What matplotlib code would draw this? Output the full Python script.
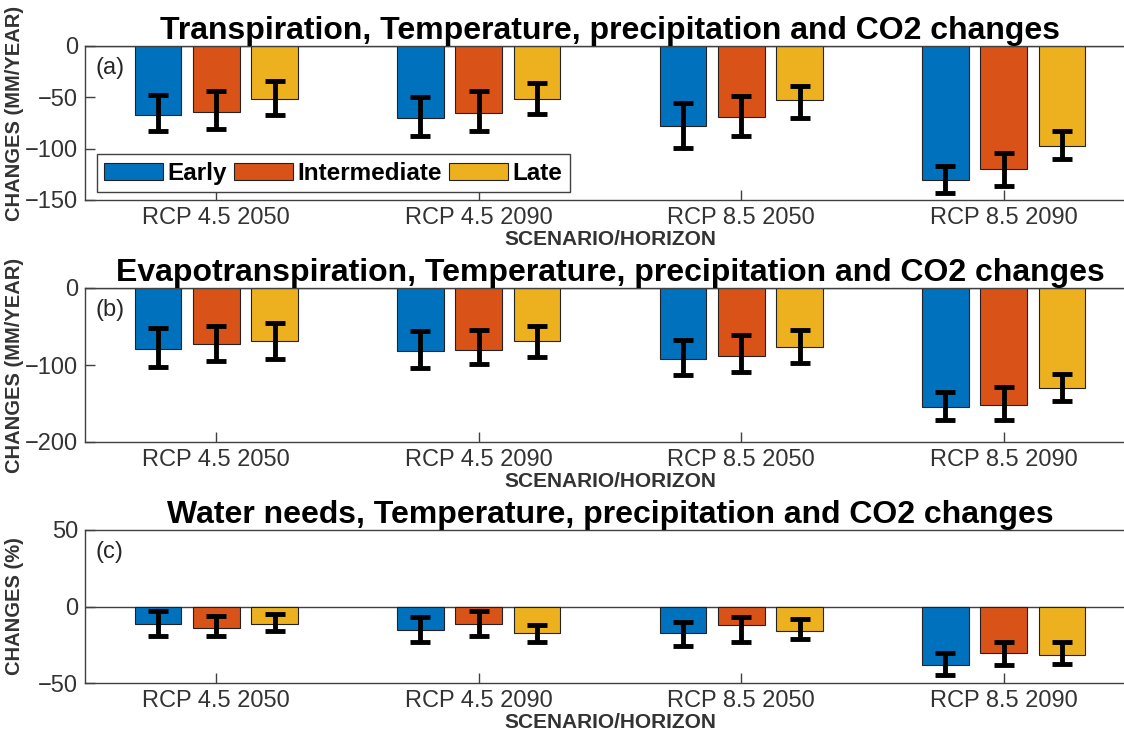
import matplotlib
matplotlib.use("Agg")
import matplotlib.pyplot as plt
import numpy as np

plt.rcParams['font.family'] = ['Liberation Sans', 'DejaVu Sans']

########## DATOS ##########
escenarios = ['RCP 4.5 2050', 'RCP 4.5 2090', 'RCP 8.5 2050', 'RCP 8.5 2090']
series = ['Early', 'Intermediate', 'Late']
colores = ['#0072BD', '#D95319', '#EDB120']

# (a) transpiracion, filas = Early, Intermediate, Late
trans_val = [[-67, -70, -78, -131],
             [-64, -65, -69.5, -120],
             [-51.5, -52, -53, -97.5]]
trans_top = [[-48, -50, -56, -117],
             [-43.5, -44, -49, -104.5],
             [-34, -36, -38.5, -83]]
trans_bot = [[-83, -88, -99, -143],
             [-81, -83, -88, -136],
             [-67, -66, -70.5, -110.5]]

# (b) evapotranspiracion
evap_val = [[-79, -82, -92, -154.5],
            [-73, -80, -88, -152.5],
            [-69, -69, -76, -130]]
evap_top = [[-52, -56, -68, -134.5],
            [-49.5, -55, -60.5, -129],
            [-46, -49, -54, -112]]
evap_bot = [[-102, -103.5, -113.5, -172],
            [-95, -99, -109, -172],
            [-92.5, -89.5, -98, -147]]

# (c) necesidades de agua (%)
agua_val = [[-11.5, -15.5, -17, -38],
            [-14, -11.5, -12, -30.5],
            [-11.5, -17, -16, -31.5]]
agua_top = [[-3, -7, -10, -30.5],
            [-6.5, -3, -7, -23.5],
            [-5, -12, -8, -23.5]]
agua_bot = [[-19.5, -23, -26, -45],
            [-19, -19.5, -23, -38.5],
            [-16, -23.5, -21.5, -37.5]]

titulos = ['Transpiration, Temperature, precipitation and CO2 changes',
           'Evapotranspiration, Temperature, precipitation and CO2 changes',
           'Water needs, Temperature, precipitation and CO2 changes']
etiquetas = ['(a)', '(b)', '(c)']
ylabels = ['CHANGES (MM/YEAR)', 'CHANGES (MM/YEAR)', 'CHANGES (%)']
ylims = [(-150, 0), (-200, 0), (-50, 50)]
yticks = [[-150, -100, -50, 0], [-200, -100, 0], [-50, 0, 50]]

W, H = 1124, 738
fig = plt.figure(figsize=(W / 100, H / 100), dpi=100)

def caja(x0, y0, x1, y1):
    # pixeles (arriba-izquierda) -> coordenadas de figura
    return [x0 / W, 1 - y1 / H, (x1 - x0) / W, (y1 - y0) / H]

posiciones = [caja(85, 46, 1135, 200), caja(85, 288, 1135, 442), caja(85, 530, 1135, 683)]
datos = [(trans_val, trans_top, trans_bot), (evap_val, evap_top, evap_bot), (agua_val, agua_top, agua_bot)]

gris = '#404040'
x = np.arange(1, len(escenarios) + 1)
offs = [-0.2222, 0, 0.2222]
ancho = 0.178

for k in range(3):
    ax = fig.add_axes(posiciones[k])
    vals, tops, bots = datos[k]
    barras = []
    for j in range(3):
        v = np.array(vals[j])
        yerr = [v - np.array(bots[j]), np.array(tops[j]) - v]
        b = ax.bar(x + offs[j], v, width=ancho, color=colores[j], edgecolor='#222222',
                   linewidth=0.8, label=series[j], zorder=2)
        barras.append(b)
        ax.errorbar(x + offs[j], v, yerr=yerr, fmt='none', ecolor='k', elinewidth=3.5,
                    capsize=7, capthick=3.5, zorder=3)
    ax.axhline(0, color=gris, linewidth=1, zorder=1)
    ax.set_xlim(0.5, 4.5)
    ax.set_ylim(*ylims[k])
    ax.set_yticks(yticks[k])
    ax.set_xticks(x)
    ax.set_xticklabels(escenarios)
    ax.tick_params(direction='in', length=7, width=1, color=gris, labelsize=17,
                   labelcolor='#333333', right=True, pad=5)
    for s in ax.spines.values():
        s.set_color(gris)
        s.set_linewidth(1)
    ax.set_title(titulos[k], fontsize=23, fontweight='bold', pad=4)
    ax.set_xlabel('SCENARIO/HORIZON', fontsize=15, fontweight='bold', color='#333333', labelpad=1)
    ax.set_ylabel(ylabels[k], fontsize=14.5, fontweight='bold', color='#333333')
    ax.yaxis.set_label_coords(-0.058, 0.5 if k > 0 else 0.56)
    ax.text(0.01, 0.93, etiquetas[k], transform=ax.transAxes, fontsize=17,
            va='top', ha='left', color='#262626')
    if k == 0:
        leg = ax.legend(handles=barras, ncol=3, loc='lower left', bbox_to_anchor=(0.0114, 0.052),
                        borderaxespad=0, fancybox=False, edgecolor=gris, framealpha=1,
                        prop={'weight': 'bold', 'size': 17.5}, handlelength=2.4,
                        handleheight=0.7, handletextpad=0.2, columnspacing=0.3,
                        borderpad=0.3)
        leg.get_frame().set_linewidth(1)

fig.savefig('out.png', dpi=100)
